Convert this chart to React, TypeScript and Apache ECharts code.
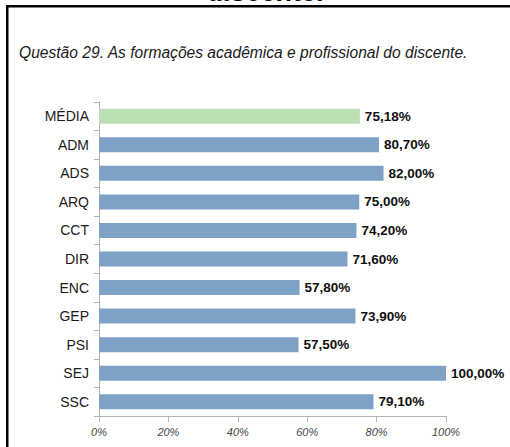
import React, { useEffect, useRef } from "react";
import * as echarts from "echarts";

const categories = ["MÉDIA", "ADM", "ADS", "ARQ", "CCT", "DIR", "ENC", "GEP", "PSI", "SEJ", "SSC"];
const values = [75.18, 80.7, 82.0, 75.0, 74.2, 71.6, 57.8, 73.9, 57.5, 100.0, 79.1];
const highlightCategory = "MÉDIA";
const titleText = "Questão 29. As formações acadêmica e profissional do discente.";
const headingText = "discente.";

const FONT = "'Liberation Sans', Arial, sans-serif";

export default function App() {
  const ref = useRef<HTMLDivElement>(null);
  useEffect(() => {
    if (!ref.current) return;
    const chart = echarts.init(ref.current, undefined, { renderer: "svg" });
    chart.setOption({
      animation: false,
      backgroundColor: "#ffffff",
      grid: { left: 99, right: 64, top: 102, bottom: 31, containLabel: false },
      xAxis: {
        type: "value",
        min: 0,
        max: 100,
        interval: 20,
        axisLine: { show: true, lineStyle: { color: "#b3b3b3", width: 1 } },
        axisTick: { show: true, length: 6, lineStyle: { color: "#b3b3b3" } },
        splitLine: { show: false },
        axisLabel: {
          formatter: "{value}%",
          fontFamily: FONT,
          fontStyle: "italic",
          fontSize: 11,
          color: "#444444",
          margin: 10,
        },
      },
      yAxis: {
        type: "category",
        data: categories,
        inverse: true,
        axisLine: { show: true, lineStyle: { color: "#b3b3b3", width: 1 } },
        axisTick: { show: true, length: 5, lineStyle: { color: "#b3b3b3" } },
        axisLabel: { fontFamily: FONT, fontSize: 14, color: "#1a1a1a", margin: 10 },
      },
      series: [
        {
          type: "bar",
          data: values.map((v, i) => ({
            value: v,
            itemStyle: { color: categories[i] === highlightCategory ? "#bcdeb3" : "#7ea2c5" },
          })),
          barWidth: 15,
          label: {
            show: true,
            position: "right",
            distance: 5,
            fontFamily: FONT,
            fontWeight: "bold",
            fontSize: 13.5,
            color: "#111111",
            formatter: (p: any) => p.value.toFixed(2).replace(".", ",") + "%",
          },
        },
      ],
      graphic: [
        {
          type: "rect",
          shape: { x: 7.25, y: 6.25, width: 600, height: 600 },
          style: { fill: "none", stroke: "#000000", lineWidth: 2.5 },
          silent: true,
        },
        {
          type: "text",
          x: 265,
          y: -8,
          style: {
            text: headingText,
            fontFamily: FONT,
            fontWeight: "bold",
            fontSize: 27,
            fill: "#000000",
            align: "center",
            verticalAlign: "middle",
          },
        },
        {
          type: "text",
          x: 19,
          y: 52,
          style: {
            text: titleText,
            fontFamily: FONT,
            fontStyle: "italic",
            fontSize: 15.6,
            fill: "#1a1a1a",
            align: "left",
            verticalAlign: "middle",
          },
        },
      ],
    });
    return () => chart.dispose();
  }, []);
  return (
    <div
      ref={ref}
      style={{ position: "fixed", left: 0, top: 0, width: 510, height: 447 }}
    />
  );
}
